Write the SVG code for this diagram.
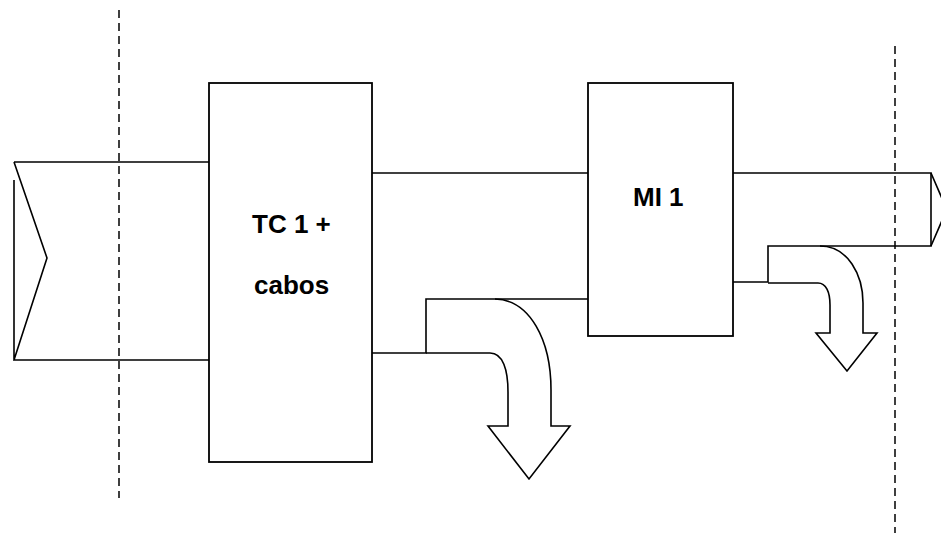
<svg xmlns="http://www.w3.org/2000/svg" width="941" height="533" viewBox="0 0 941 533">
<style>
.ln{fill:none;stroke:#000;stroke-width:1.6;stroke-linejoin:miter}
.box{fill:#fff;stroke:#000;stroke-width:1.8}
.dash{fill:none;stroke:#000;stroke-width:1.5;stroke-dasharray:8 5}
.lbl{font-family:"Liberation Sans",Arial,sans-serif;font-weight:bold;font-size:26px;fill:#000}
</style>
<rect width="941" height="533" fill="#fff"/>
<g id="boundaries">
<line class="dash" x1="119" y1="10" x2="119" y2="498"/>
<line class="dash" x1="895" y1="46" x2="895" y2="533"/>
</g>
<g id="connectors">
<path class="ln" d="M14,180 L14,360 M14,162 L209,162 M14,162 L47,258 L14,360 L209,360"/>
<path class="ln" d="M372,173 L588,173"/>
<path class="ln" d="M372,353 L426,353 L426,299 L588,299"/>
<path class="ln" d="M495,299 C530,300 551,340 551,390 L551,426 L570,426 L529,479 L488,426 L508,426 L508,392 C508,370 503,353 490,353 L426,353"/>
<path class="ln" d="M733,173 L931,173 L931,246 L768,246 L768,282 L733,282"/>
<path class="ln" d="M931,173 L947,210 M931,246 L947,209"/>
<path class="ln" d="M820,246 C848,246 863,275 863,303 L863,333 L877,333 L847,371 L816,333 L830,333 L830,305 C830,292 826,283 818,283 L768,283"/>
</g>
<g id="tc1">
<rect class="box" x="209" y="83" width="163" height="379"/>
<text class="lbl" x="252" y="233">TC 1 +</text>
<text class="lbl" x="254" y="294">cabos</text>
</g>
<g id="mi1">
<rect class="box" x="588" y="83" width="145" height="253"/>
<text class="lbl" x="633" y="206">MI 1</text>
</g>
</svg>
